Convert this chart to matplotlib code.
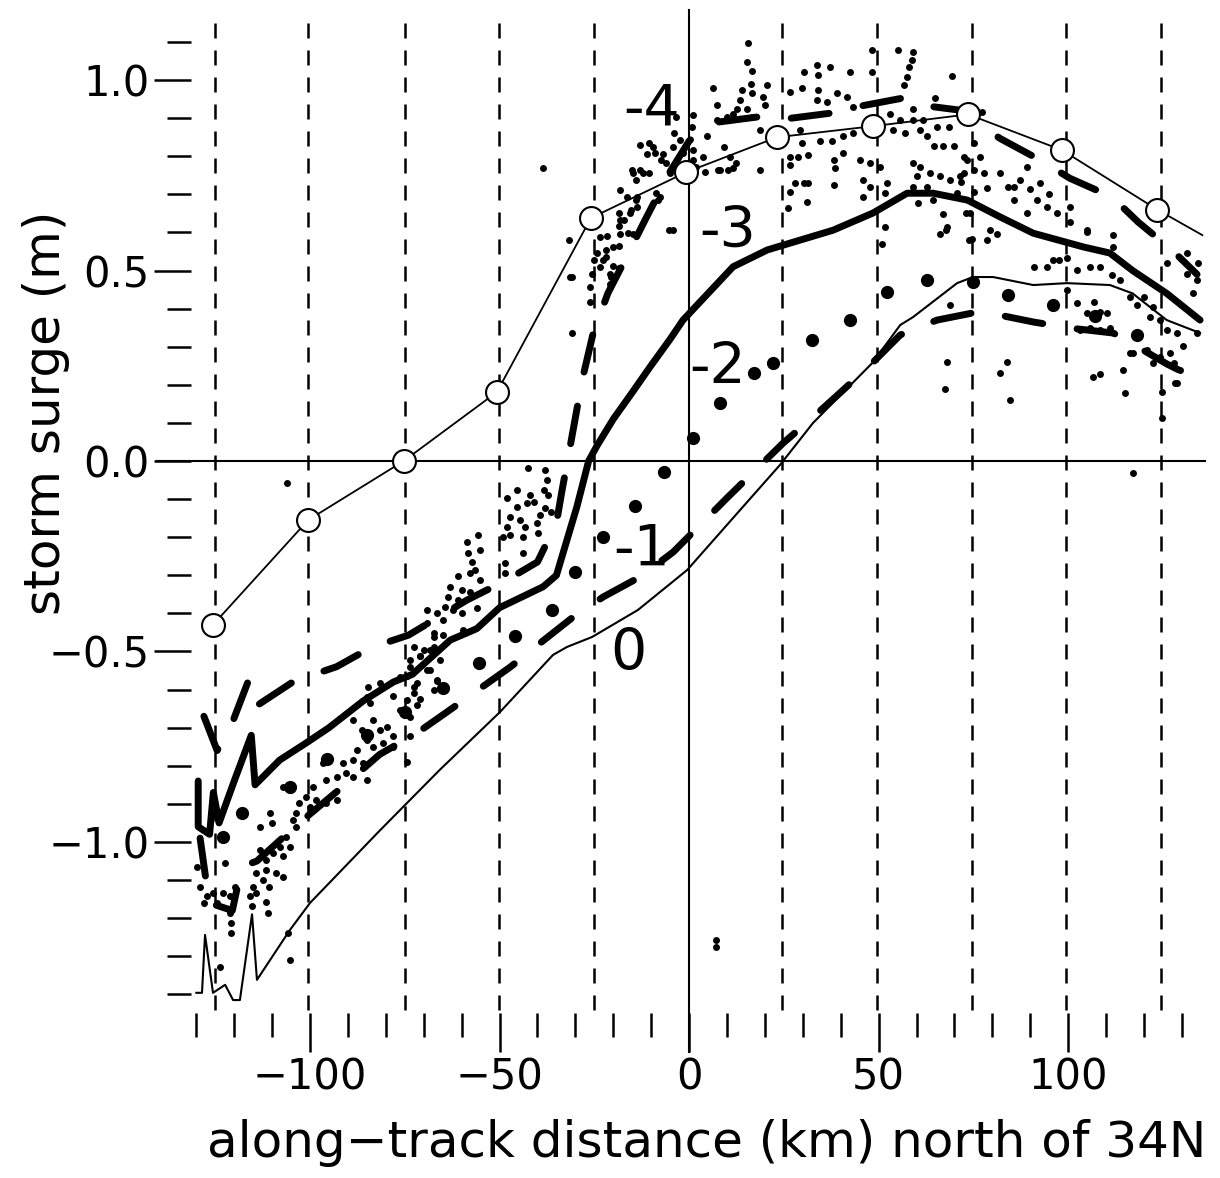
import matplotlib
matplotlib.use("Agg")
import matplotlib.pyplot as plt
import numpy as np

plt.rcParams['font.family'] = ['DejaVu Sans']

# ---------------- data ----------------
# open-circle track (last point only continues the line to the edge)
obs_x = [-125.6, -100.5, -75.3, -50.7, -25.9, -0.8, 23.2, 48.5, 73.6, 98.4, 123.5, 135.4]
obs_y = [-0.43, -0.155, 0.0, 0.181, 0.638, 0.758, 0.85, 0.879, 0.91, 0.816, 0.66, 0.593]

# vertical dashed guide lines (km)
guide_x = [-125.1, -100.5, -74.9, -50.1, -25.1, 24.5, 49.6, 74.7, 99.5, 124.5]

# curve "-4" (thick long dashes)
c4_x = [-128, -124.5, -121, -116, -113.7, -105, -101, -93, -84, -74, -58.6, -48, -40,
        -35, -33.5, -31.4, -28.2, -25.3, -21.4, -16.9, -11.6, -5, 0, 5.5, 17.9, 23,
        37.2, 44.3, 56.5, 60, 64.4, 71.5, 82, 92.6, 100.5, 111.6, 118.5, 127.4, 134]
c4_y = [-0.67, -0.76, -0.70, -0.57, -0.64, -0.583, -0.567, -0.54, -0.49, -0.457, -0.365,
        -0.312, -0.265, -0.163, -0.076, 0.037, 0.213, 0.336, 0.441, 0.528, 0.633, 0.76,
        0.84, 0.887, 0.903, 0.895, 0.913, 0.93, 0.953, 0.94, 0.93, 0.921, 0.847, 0.79,
        0.742, 0.693, 0.627, 0.554, 0.49]

# curve "-3" (thick solid)
c3_x = [-129.5, -129.5, -126.5, -125.5, -124, -120, -115.5, -114.5, -108, -101, -95, -86,
        -78, -73, -63, -56, -50, -38.5, -35, -29.6, -26.5, -24.3, -20, -15, -10.3, -5,
        -1.6, 5, 11.6, 20.6, 29.3, 38, 48.5, 57.5, 64.4, 73.4, 82, 90.8, 104, 111, 117,
        126, 134.8]
c3_y = [-0.84, -0.96, -0.98, -0.87, -0.95, -0.84, -0.72, -0.85, -0.785, -0.74, -0.70,
        -0.63, -0.58, -0.56, -0.47, -0.44, -0.385, -0.33, -0.30, -0.12, 0.0, 0.04, 0.11,
        0.18, 0.247, 0.32, 0.37, 0.44, 0.51, 0.554, 0.58, 0.606, 0.651, 0.703, 0.703,
        0.685, 0.641, 0.598, 0.562, 0.546, 0.50, 0.44, 0.37]

# curve "-2" (large dots)
c2_x = [-123, -118, -105.4, -95.6, -85, -75, -65, -55.4, -45.9, -36.1, -30, -22.7, -14.2,
        -6.6, 1.1, 8.2, 17, 22.2, 32.5, 42.5, 52.2, 62.8, 75, 84.2, 96, 107, 118.2]
c2_y = [-0.986, -0.923, -0.855, -0.781, -0.72, -0.66, -0.595, -0.53, -0.459, -0.391,
        -0.291, -0.199, -0.118, -0.029, 0.06, 0.152, 0.231, 0.257, 0.318, 0.37, 0.444,
        0.475, 0.47, 0.436, 0.41, 0.38, 0.331]

# curve "-1" (thick long dashes)
c1_x = [-129, -126.6, -120.5, -118, -114, -104, -92, -81.6, -71.8, -63.9, -47.2, -39.3,
        -30.9, -22.7, -12.9, -4.2, 3.4, 10.3, 24.8, 32.7, 40.6, 48.3, 55.7, 65.4, 76,
        79.4, 90.8, 100.5, 111.9, 120, 126, 131]
c1_y = [-0.99, -1.16, -1.18, -1.065, -1.05, -0.96, -0.86, -0.77, -0.714, -0.659, -0.541,
        -0.478, -0.412, -0.357, -0.304, -0.239, -0.163, -0.094, 0.047, 0.115, 0.186,
        0.257, 0.331, 0.37, 0.391, 0.388, 0.365, 0.349, 0.336, 0.29, 0.255, 0.23]

# curve "0" (thin solid)
c0_x = [-130, -128.5, -127.7, -125.6, -122.4, -120.3, -118.5, -115.3, -114, -105.3, -100,
        -81.5, -65.7, -49.9, -35.9, -32.2, -25.6, -13.5, -0.5, 12, 24, 32.7, 48.3, 55.7,
        59.1, 70.7, 74.9, 80.2, 90.8, 99.7, 111, 117, 126, 134.8]
c0_y = [-1.396, -1.396, -1.244, -1.396, -1.375, -1.415, -1.415, -1.19, -1.362, -1.231,
        -1.16, -0.969, -0.81, -0.659, -0.509, -0.488, -0.462, -0.391, -0.286, -0.145,
        -0.01, 0.1, 0.257, 0.357, 0.378, 0.467, 0.483, 0.483, 0.462, 0.467, 0.462, 0.44,
        0.37, 0.336]

# curve labels
label_text = ["-4", "-3", "-2", "-1", "0"]
label_x = [-10.0, 10.3, 7.4, -12.4, -16.1]
label_y = [0.921, 0.601, 0.244, -0.234, -0.509]

# scattered altimeter points, by region
pts_southwest = [(-129.0, -1.117), (-127.3, -1.143), (-125.5, -1.134), (-128.1, -1.161),
    (-124.6, -1.161), (-122.9, -1.134), (-121.2, -1.143), (-119.9, -1.117), (-121.2, -1.187),
    (-120.8, -1.213), (-120.8, -1.239), (-129.9, -1.065), (-122.5, -1.056), (-123.7, -1.327),
    (-105.2, -1.309), (-105.7, -1.239), (-110.5, -0.925), (-110.1, -0.951), (-104.5, -0.943),
    (-103.6, -0.960), (-106.3, -0.986), (-108.0, -1.012), (-105.4, -1.012), (-107.2, -1.038),
    (-109.8, -1.030), (-111.5, -1.047), (-113.3, -1.021), (-114.2, -1.082), (-111.5, -1.073),
    (-108.9, -1.082), (-107.2, -1.091), (-112.4, -1.099), (-110.7, -1.117), (-114.2, -1.134),
    (-111.5, -1.157), (-111.1, -1.187), (-115.4, -1.169), (-115.8, -1.143), (-115.0, -1.117),
    (-113.3, -0.960), (-99.2, -0.855), (-101.0, -0.881), (-98.4, -0.890), (-95.7, -0.899),
    (-93.0, -0.890), (-102.8, -0.899), (-105.4, -0.864), (-107.2, -0.855), (-103.6, -0.925),
    (-100.1, -0.907)]
pts_west = [(-88.6, -0.680), (-86.4, -0.706), (-83.3, -0.680), (-81.6, -0.706), (-79.8, -0.697),
    (-78.0, -0.723), (-85.1, -0.732), (-87.7, -0.758), (-83.3, -0.750), (-80.7, -0.741),
    (-78.0, -0.750), (-73.6, -0.723), (-88.6, -0.785), (-91.3, -0.794), (-86.0, -0.794),
    (-90.4, -0.820), (-93.0, -0.829), (-95.7, -0.837), (-88.6, -0.829), (-85.1, -0.837),
    (-96.6, -0.794), (-95.7, -0.776), (-84.2, -0.636), (-85.1, -0.619), (-84.6, -0.592),
    (-81.6, -0.583), (-74.5, -0.789), (-69.2, -0.426), (-67.4, -0.461), (-72.7, -0.487),
    (-70.9, -0.513), (-68.3, -0.496), (-73.6, -0.540), (-69.2, -0.548), (-66.5, -0.575),
    (-76.2, -0.566), (-72.7, -0.592), (-78.0, -0.618), (-74.5, -0.627), (-72.7, -0.610),
    (-76.2, -0.653), (-73.6, -0.671), (-71.8, -0.640), (-67.4, -0.601)]
pts_band = [(-55.6, -0.194), (-58.7, -0.212), (-55.2, -0.234), (-58.3, -0.242), (-57.4, -0.264),
    (-56.6, -0.286), (-60.9, -0.303), (-57.8, -0.295), (-55.2, -0.312), (-63.1, -0.330),
    (-60.0, -0.338), (-57.8, -0.343), (-63.5, -0.356), (-60.9, -0.365), (-64.4, -0.382),
    (-62.2, -0.391), (-60.0, -0.400), (-56.0, -0.387), (-69.2, -0.391), (-66.5, -0.400),
    (-64.8, -0.417), (-67.4, -0.452), (-64.8, -0.456), (-59.6, -0.443), (-70.0, -0.496),
    (-67.4, -0.487), (-73.6, -0.522), (-71.0, -0.513), (-68.3, -0.548), (-65.7, -0.522),
    (-66.6, -0.578), (-64.8, -0.591), (-74.5, -0.565), (-71.8, -0.582), (-71.0, -0.626)]
pts_knot = [(-42.4, -0.019), (-38.0, -0.024), (-37.5, -0.050), (-38.4, -0.076), (-37.1, -0.089),
    (-45.4, -0.076), (-41.9, -0.089), (-41.0, -0.107), (-42.7, -0.111), (-48.1, -0.098),
    (-38.0, -0.124), (-36.3, -0.133), (-39.3, -0.142), (-40.2, -0.164), (-45.4, -0.120),
    (-47.2, -0.146), (-44.5, -0.155), (-48.1, -0.172), (-43.3, -0.172), (-49.0, -0.199),
    (-47.2, -0.194), (-43.7, -0.199), (-39.8, -0.190), (-43.7, -0.242), (-48.5, -0.268),
    (-48.5, -0.295)]
pts_rise = [(-31.8, 0.580), (-30.9, 0.483), (-30.9, 0.335), (-25.2, 0.527), (-25.6, 0.492),
    (-26.1, 0.457), (-26.1, 0.418), (-24.4, 0.545), (-23.5, 0.589), (-23.5, 0.510),
    (-21.8, 0.536), (-20.9, 0.492), (-20.9, 0.466), (-20.0, 0.562), (-18.2, 0.597),
    (-18.2, 0.633), (-15.6, 0.650), (-14.7, 0.597), (-13.8, 0.667), (-18.2, 0.711),
    (-13.8, 0.694), (-12.1, 0.755), (-14.7, 0.755), (-11.2, 0.807), (-9.4, 0.825),
    (-6.8, 0.807), (-4.2, 0.607), (-7.7, 0.694), (-38.5, 0.769), (-12.9, 0.829),
    (-10.7, 0.834), (-15.1, 0.764), (-12.9, 0.764), (-10.7, 0.755), (-14.0, 0.738),
    (-9.0, 0.808), (-7.3, 0.790), (-8.6, 0.703), (-8.2, 0.686), (-5.2, 0.607), (-16.3, 0.694),
    (-14.0, 0.686), (-18.4, 0.651), (-17.1, 0.634), (-15.3, 0.660), (-16.2, 0.599),
    (-18.6, 0.616), (-21.6, 0.590), (-18.4, 0.564), (-21.9, 0.555), (-22.8, 0.529),
    (-20.2, 0.512), (-18.5, 0.507), (-31.4, 0.484), (-20.5, 0.484), (-3.4, 0.903),
    (-3.9, 0.860), (-4.3, 0.825), (-2.5, 0.843), (-1.6, 0.808), (1.0, 0.817), (1.0, 0.790),
    (-6.0, 0.782), (-5.1, 0.756), (1.9, 0.773), (3.7, 0.799), (7.6, 0.764), (10.3, 0.764),
    (12.5, 0.782)]
pts_peak = [(15.6, 1.098), (15.4, 1.048), (16.6, 1.024), (16.3, 0.991), (6.4, 0.978), (20.5, 0.987),
    (13.9, 0.973), (13.5, 0.947), (16.6, 0.965), (19.6, 0.956), (12.6, 0.925), (15.2, 0.925),
    (7.3, 0.934), (20.0, 0.934), (30.2, 1.022), (33.7, 1.039), (34.1, 1.013), (37.1, 1.035),
    (42.5, 1.020), (48.2, 1.079), (48.2, 1.022), (55.2, 1.079), (59.2, 1.074), (58.8, 1.054),
    (57.9, 1.035), (57.4, 1.009), (56.6, 0.987), (69.3, 1.011), (26.6, 0.969), (29.7, 0.978),
    (34.1, 0.973), (36.3, 0.943), (33.7, 0.947), (38.9, 0.966), (41.6, 0.956), (43.3, 0.930),
    (64.9, 0.952), (59.2, 0.923), (1.1, 0.908), (0.7, 0.878), (4.7, 0.852), (7.3, 0.895),
    (9.9, 0.904), (11.7, 0.912), (16.6, 0.904), (9.1, 0.825), (10.8, 0.799), (11.7, 0.769),
    (4.2, 0.759), (8.2, 0.764), (18.7, 0.764), (18.7, 0.869), (29.2, 0.869), (29.7, 0.834),
    (26.6, 0.799), (28.8, 0.799), (31.5, 0.803), (26.6, 0.777), (34.5, 0.839), (37.6, 0.839),
    (40.7, 0.852), (43.3, 0.860), (38.1, 0.790), (38.5, 0.769), (40.7, 0.808), (45.1, 0.790),
    (47.8, 0.782), (50.4, 0.773), (27.9, 0.729), (30.2, 0.729), (31.5, 0.729), (26.6, 0.707),
    (31.0, 0.681), (26.2, 0.664), (38.1, 0.725), (46.0, 0.738), (47.8, 0.720), (51.7, 0.703),
    (46.0, 0.694), (52.2, 0.729), (51.7, 0.614), (50.8, 0.571), (67.1, 0.649), (66.2, 0.597),
    (68.0, 0.614), (53.0, 0.912), (55.7, 0.895), (59.2, 0.895), (61.8, 0.895), (53.9, 0.869),
    (57.0, 0.860), (61.0, 0.869), (62.7, 0.852), (65.4, 0.878), (68.5, 0.878), (64.6, 0.826),
    (67.1, 0.826), (69.8, 0.826), (59.2, 0.782), (61.0, 0.773), (63.6, 0.756), (66.2, 0.747),
    (68.9, 0.738), (71.5, 0.747), (73.3, 0.790), (75.1, 0.764), (60.1, 0.747), (59.2, 0.720),
    (62.7, 0.720), (60.5, 0.677), (64.4, 0.686), (74.2, 0.651), (74.6, 0.582), (77.3, 0.916),
    (75.1, 0.834), (76.8, 0.799), (72.5, 0.799), (72.5, 0.755), (77.8, 0.755), (82.1, 0.755),
    (71.6, 0.733), (75.1, 0.707), (78.6, 0.716), (70.7, 0.703), (79.4, 0.606), (78.6, 0.580),
    (81.2, 0.597), (73.9, 0.580), (73.0, 0.650), (67.8, 0.606), (68.8, 0.410)]
pts_east = [(85.6, 0.720), (87.4, 0.737), (90.0, 0.715), (92.6, 0.729), (85.6, 0.685), (89.1, 0.650),
    (91.7, 0.685), (94.4, 0.667), (97.0, 0.650), (100.5, 0.667), (100.5, 0.628), (105.0, 0.602),
    (111.9, 0.593), (111.9, 0.562), (131.3, 0.545), (134.3, 0.519), (90.9, 0.510), (94.4, 0.510),
    (97.5, 0.527), (99.6, 0.532), (102.3, 0.502), (105.8, 0.510), (108.4, 0.510), (111.5, 0.488),
    (113.7, 0.475), (99.6, 0.449), (102.3, 0.414), (105.0, 0.388), (106.7, 0.418), (108.4, 0.392),
    (110.2, 0.388), (103.2, 0.344), (105.8, 0.348), (108.4, 0.344), (111.0, 0.348), (116.4, 0.431),
    (118.1, 0.409), (119.9, 0.431), (122.5, 0.405), (121.6, 0.379), (124.3, 0.370), (126.0, 0.344),
    (128.7, 0.336), (130.4, 0.301), (133.9, 0.475), (133.9, 0.336), (133.0, 0.440), (117.2, 0.283),
    (120.7, 0.292), (124.3, 0.274), (127.8, 0.257), (129.5, 0.239), (128.7, 0.205), (116.4, 0.283),
    (126.9, 0.283), (122.5, 0.257), (89.1, 0.772), (105.0, 0.606), (126.0, 0.519), (131.3, 0.492),
    (96.1, 0.527), (84.2, 0.720), (95.0, 0.700)]
pts_outliers = [(68.0, 0.261), (82.1, 0.230), (84.7, 0.160), (67.5, 0.190), (83.8, 0.261),
    (106.5, 0.220), (108.4, 0.229), (114.5, 0.239), (115.0, 0.178), (128.2, 0.205),
    (124.7, 0.181), (124.8, 0.113), (117.0, -0.031), (-106.0, -0.058), (7.1, -1.257),
    (7.1, -1.276)]

xtick_major = [-100, -50, 0, 50, 100]
xtick_labels = ["\u2212100", "\u221250", "0", "50", "100"]
ytick_major = [-1.0, -0.5, 0.0, 0.5, 1.0]
ytick_labels = ["\u22121.0", "\u22120.5", "0.0", "0.5", "1.0"]

# ---------------- figure ----------------
W, H = 1220, 1178
fig = plt.figure(figsize=(W / 100, H / 100), dpi=100)
ax = fig.add_axes([191 / W, 1 - 1013 / H, (1205 - 191) / W, (1013 - 10) / H])
ax.set_xlim(-131.4, 136.1)
ax.set_ylim(-1.449, 1.184)
for s in ax.spines.values():
    s.set_visible(False)

K = 'black'
# guide lines
ax.vlines(guide_x, -1.441, 1.152, colors=K, linewidth=1.8,
          linestyles=[(0, (6.0, 4.8))], zorder=1)
ax.plot([-140.4, 136.1], [0, 0], color=K, lw=1.5, clip_on=False, zorder=1)
ax.plot([0, 0], [1.184, -1.551], color=K, lw=1.5, clip_on=False, zorder=1)

# scatter points
all_pts = (pts_southwest + pts_west + pts_band + pts_knot + pts_rise + pts_peak
           + pts_east + pts_outliers)
sx = [p[0] for p in all_pts]
sy = [p[1] for p in all_pts]
ax.plot(sx, sy, 'o', ms=5.0, color=K, mew=0, ls='none', zorder=2)

# curves
ax.plot(c0_x, c0_y, color=K, lw=1.5, zorder=3)
ax.plot(c1_x, c1_y, color=K, lw=5, ls=(0, (5.5, 5.0)), dash_capstyle='round', zorder=3)
ax.plot(c2_x, c2_y, 'o', ms=9.5, color=K, mew=0, ls='none', zorder=3)
ax.plot(c3_x, c3_y, color=K, lw=5, solid_capstyle='round', solid_joinstyle='round', zorder=3)
ax.plot(c4_x, c4_y, color=K, lw=5, ls=(0, (5.5, 5.0)), dash_capstyle='round', zorder=3)

# open-circle track
ax.plot(obs_x, obs_y, '-', color=K, lw=1.3, marker='o', ms=16.5, mfc='white', mec=K,
        mew=1.5, markevery=list(range(11)), zorder=5)

for t, x, y in zip(label_text, label_x, label_y):
    ax.text(x, y, t, fontsize=41, ha='center', va='center', zorder=6)

# ticks
ax.set_xticks(xtick_major)
ax.set_xticklabels(xtick_labels)
ax.set_xticks(np.arange(-130, 131, 10), minor=True)
ax.set_yticks(ytick_major)
ax.set_yticklabels(ytick_labels)
ax.set_yticks(np.arange(-14, 12) / 10.0, minor=True)
ax.tick_params(axis='x', which='major', direction='out', length=28, width=1.8,
               labelsize=30, pad=3)
ax.tick_params(axis='x', which='minor', direction='out', length=17, width=1.8)
ax.tick_params(axis='y', which='major', direction='out', length=26.5, width=1.8,
               labelsize=30, pad=3.5)
ax.tick_params(axis='y', which='minor', direction='out', length=17, width=1.8)

fig.text(46 / W, 1 - 413 / H, "storm surge (m)", rotation=90, ha='center', va='center',
         fontsize=36)
fig.text(707 / W, 1 - 1157 / H, "along\u2212track distance (km) north of 34N",
         ha='center', va='baseline', fontsize=36)

fig.savefig("out.png", dpi=100)
